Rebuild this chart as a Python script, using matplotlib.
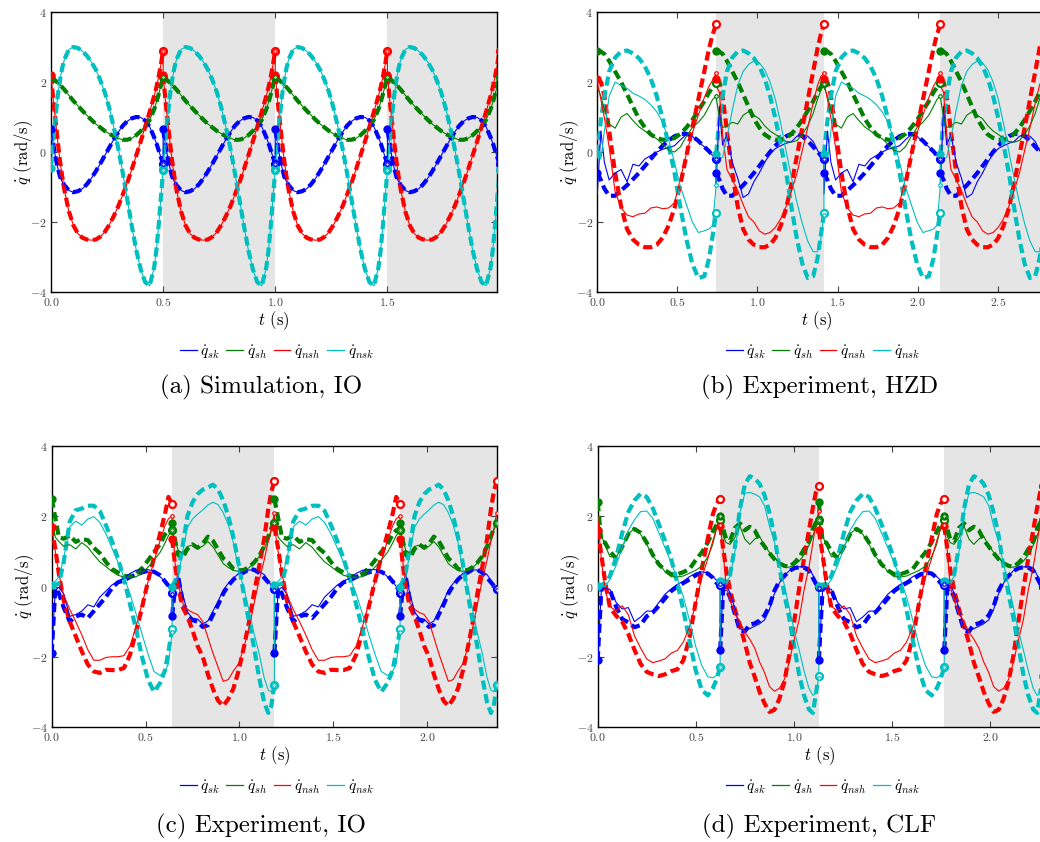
import numpy as np
import matplotlib
matplotlib.use('Agg')
import matplotlib.pyplot as plt
from matplotlib.lines import Line2D

plt.rcParams['font.family'] = ['cmr10', 'DejaVu Serif']
plt.rcParams['mathtext.fontset'] = 'cm'
plt.rcParams['axes.formatter.use_mathtext'] = True

# ---------------- data ----------------
joint_labels = [r'$\dot{q}_{sk}$', r'$\dot{q}_{sh}$', r'$\dot{q}_{nsh}$', r'$\dot{q}_{nsk}$']
joint_colors = ['#0000ff', '#008000', '#ff0000', '#00bfbf']
captions = ['(a) Simulation, IO', '(b) Experiment, HZD', '(c) Experiment, IO', '(d) Experiment, CLF']
y_ticks = [-4, -2, 0, 2, 4]
y_ticklabels = [r'$-4$', r'$-2$', r'$0$', r'$2$', r'$4$']

# step boundaries (s)
a_steps = [0.0, 0.5, 1.0, 1.5, 2.0]
b_steps = [0.0, 0.742, 1.415, 2.142, 2.80]
c_steps = [0.0, 0.641, 1.186, 1.855, 2.37]
d_steps = [0.0, 0.624, 1.127, 1.766, 2.27]

a_xticks = [0.0, 0.5, 1.0, 1.5]
b_xticks = [0.0, 0.5, 1.0, 1.5, 2.0, 2.5]
c_xticks = [0.0, 0.5, 1.0, 1.5, 2.0]
d_xticks = [0.0, 0.5, 1.0, 1.5, 2.0]

# phase within a step (0 = start, 1 = end)
a_phase = [0, 0.02, 0.04, 0.06, 0.08, 0.10, 0.12, 0.16, 0.20, 0.24, 0.28, 0.32, 0.36,
           0.40, 0.44, 0.48, 0.52, 0.56, 0.60, 0.64, 0.68, 0.72, 0.76, 0.80, 0.84, 0.88,
           0.92, 0.94, 0.96, 0.98, 1.0]
phase = [0, 0.03, 0.06, 0.1, 0.15, 0.2, 0.25, 0.3, 0.35, 0.4, 0.45, 0.5, 0.55, 0.6,
         0.65, 0.7, 0.75, 0.8, 0.85, 0.9, 0.94, 0.97, 1.0]

# (a) simulation: actual == desired, one step repeated
a_sk = [0.65, 0.25, -0.15, -0.45, -0.7, -0.85, -0.95, -1.1, -1.15, -1.12, -1.05, -0.92, -0.75,
        -0.55, -0.33, -0.1, 0.13, 0.36, 0.57, 0.75, 0.88, 0.96, 1.0, 0.99, 0.9, 0.72, 0.42,
        0.25, 0.05, -0.15, -0.35]
a_sh = [2.15, 2.1, 2.04, 1.98, 1.92, 1.85, 1.78, 1.62, 1.46, 1.32, 1.18, 1.05, 0.92, 0.8,
        0.7, 0.6, 0.52, 0.45, 0.39, 0.35, 0.35, 0.39, 0.48, 0.6, 0.72, 0.92, 1.22, 1.42,
        1.65, 1.9, 2.15]
a_nsh = [2.2, 1.5, 0.9, 0.3, -0.25, -0.7, -1.1, -1.7, -2.1, -2.33, -2.45, -2.5, -2.52, -2.5,
         -2.42, -2.28, -2.08, -1.83, -1.55, -1.22, -0.88, -0.5, -0.1, 0.3, 0.72, 1.15, 1.6,
         1.85, 2.15, 2.5, 2.9]
a_nsk = [-0.45, 0.3, 1.0, 1.6, 2.05, 2.4, 2.65, 2.93, 3.0, 2.97, 2.88, 2.75, 2.57, 2.35,
         2.05, 1.7, 1.25, 0.7, 0.1, -0.6, -1.35, -2.1, -2.8, -3.35, -3.72, -3.82, -3.3,
         -2.8, -2.1, -1.3, -0.5]

# (b) HZD experiment
b_des_sk = [-0.6, -0.8, -1.05, -1.25, -1.25, -1.1, -0.95, -0.78, -0.6, -0.4, -0.2, 0.0, 0.18,
            0.33, 0.45, 0.52, 0.52, 0.45, 0.32, 0.15, 0.02, -0.1, -0.2]
b_des_sh = [2.88, 2.87, 2.8, 2.6, 2.3, 2.0, 1.65, 1.3, 0.95, 0.7, 0.5, 0.4, 0.35, 0.35, 0.4,
            0.52, 0.7, 0.92, 1.18, 1.45, 1.7, 1.85, 1.98]
b_des_nsh = [2.08, 2.0, 1.6, 0.6, -0.6, -1.55, -2.2, -2.5, -2.65, -2.72, -2.72, -2.65, -2.45,
             -2.1, -1.6, -0.9, -0.1, 0.7, 1.5, 2.3, 2.95, 3.35, 3.65]
b_des_nsk = [-0.05, 0.9, 1.6, 2.3, 2.7, 2.87, 2.9, 2.82, 2.68, 2.45, 2.1, 1.6, 0.95, 0.2,
             -0.6, -1.6, -2.5, -3.2, -3.6, -3.55, -3.05, -2.4, -1.75]
b_actA_sk = [-1.2, 0.6, -0.3, -0.8, -0.6, -0.5, -0.85, -0.35, -0.4, -0.2, -0.1, 0.0, 0.08,
             0.12, 0.18, 0.35, 0.5, 0.45, 0.28, 0.15, 0.0, -0.1, -0.2]
b_actA_sh = [1.85, 1.6, 1.2, 0.8, 0.68, 1.0, 1.1, 0.9, 0.72, 0.6, 0.48, 0.38, 0.22, 0.05,
             0.0, 0.15, 0.45, 0.7, 0.85, 1.05, 1.3, 1.5, 1.6]
b_actA_nsh = [2.0, 1.5, 0.97, 0.13, -1.14, -1.59, -1.8, -1.85, -1.77, -1.75, -1.6, -1.57,
              -1.62, -1.6, -1.45, -0.75, -0.05, 0.55, 1.05, 1.55, 1.88, 2.05, 2.25]
b_actA_nsk = [-0.1, -0.2, 0.6, 1.6, 2.0, 1.9, 1.82, 1.68, 1.6, 1.5, 1.35, 1.15, 0.85, 0.35,
              -0.3, -1.0, -1.5, -2.0, -2.3, -2.25, -2.2, -2.1, -0.95]
b_actB_sk = [-0.9, 1.3, 0.2, 0.5, -0.3, -0.75, -1.3, -1.2, -0.85, -0.6, -0.3, -0.05, 0.1,
             0.18, 0.25, 0.3, 0.45, 0.5, 0.45, 0.3, 0.05, -0.1, -0.2]
b_actB_sh = [1.55, 1.0, 0.7, 0.75, 0.85, 0.8, 1.05, 1.15, 1.05, 0.95, 0.75, 0.6, 0.5, 0.4,
             0.3, 0.28, 0.33, 0.5, 0.75, 1.1, 1.5, 1.75, 1.95]
b_actB_nsh = [1.9, 1.7, 0.5, -0.5, -0.8, -1.1, -1.5, -1.85, -2.0, -2.25, -2.35, -2.3, -2.15,
              -1.9, -1.55, -1.1, -0.6, 0.05, 0.7, 1.4, 1.9, 2.15, 2.25]
b_actB_nsk = [-0.1, -0.2, -0.15, 0.4, 1.2, 1.9, 2.3, 2.5, 2.6, 2.55, 2.35, 2.0, 1.5, 0.8,
              0.0, -0.75, -1.45, -2.05, -2.55, -2.85, -2.85, -2.5, -1.8]

# (c) IO experiment
c_desA_sk = [-1.9, -0.05, -0.2, -0.6, -1.0, -0.85, -0.8, -0.9, -0.7, -0.5, -0.3, -0.05, 0.12,
             0.17, 0.27, 0.33, 0.4, 0.45, 0.42, 0.32, 0.15, 0.02, -0.18]
c_desA_sh = [2.5, 1.95, 1.4, 1.36, 1.45, 1.27, 1.35, 1.32, 1.1, 0.95, 0.7, 0.5, 0.4, 0.3,
             0.29, 0.36, 0.52, 0.74, 0.98, 1.2, 1.48, 1.6, 1.6]
c_desA_nsh = [1.7, 1.07, 0.35, -0.4, -1.0, -1.42, -1.85, -2.22, -2.42, -2.46, -2.37, -2.38,
              -2.38, -2.32, -1.95, -1.3, -0.6, 0.15, 0.82, 1.5, 2.05, 2.55, 2.35]
c_desA_nsk = [0.05, 0.05, 0.08, 0.7, 1.85, 2.17, 2.22, 2.3, 2.3, 2.15, 1.75, 1.3, 0.8, 0.22,
              -0.5, -1.2, -2.0, -2.65, -3.0, -2.75, -2.4, -1.85, -1.22]
c_desB_sk = [-0.85, 0.0, 0.27, -0.37, -0.86, -0.96, -1.0, -1.15, -1.1, -0.8, -0.52, -0.2,
             0.03, 0.2, 0.33, 0.4, 0.48, 0.48, 0.39, 0.25, 0.12, 0.02, -0.08]
c_desB_sh = [1.8, 1.3, 0.9, 0.8, 1.07, 1.2, 1.1, 1.22, 1.42, 1.3, 1.05, 0.8, 0.68, 0.5, 0.46,
             0.47, 0.55, 0.68, 0.86, 1.14, 1.42, 1.66, 1.8]
c_desB_nsh = [1.36, 0.6, 0.0, -0.57, -0.85, -1.25, -1.7, -2.0, -2.5, -2.92, -3.25, -3.4,
              -3.2, -2.9, -2.4, -1.75, -1.05, -0.2, 0.55, 1.35, 2.2, 2.7, 3.0]
c_desB_nsk = [0.0, 0.15, 0.42, 1.1, 2.0, 2.4, 2.63, 2.76, 2.82, 2.9, 2.76, 2.45, 2.0, 1.4,
              0.65, -0.2, -0.97, -1.72, -2.58, -3.3, -3.6, -3.4, -2.8]
c_actA_sk = [-1.9, -0.1, -0.02, -0.22, -0.85, -0.8, -0.7, -0.52, -0.58, -0.3, -0.13, 0.04,
             0.15, 0.24, 0.37, 0.46, 0.49, 0.48, 0.44, 0.28, 0.15, 0.0, -0.2]
c_actA_sh = [2.0, 1.4, 1.28, 1.14, 1.19, 1.07, 1.25, 1.12, 0.9, 0.7, 0.57, 0.43, 0.32, 0.27,
             0.26, 0.28, 0.37, 0.55, 0.75, 0.97, 1.23, 1.45, 1.6]
c_actA_nsh = [1.7, 1.0, 0.35, -0.25, -0.65, -1.0, -1.38, -1.8, -2.1, -2.1, -2.02, -2.0, -2.0,
              -1.97, -1.7, -1.15, -0.5, 0.13, 0.72, 1.3, 1.72, 1.93, 2.0]
c_actA_nsk = [0.05, 0.15, 0.27, 0.8, 1.7, 1.86, 1.75, 1.92, 1.99, 1.82, 1.5, 1.1, 0.7, 0.27,
              -0.2, -0.77, -1.35, -1.92, -2.42, -2.53, -2.42, -2.2, -1.3]
c_actB_sk = [-0.85, 0.1, 0.33, -0.18, -0.73, -0.9, -0.93, -1.07, -0.98, -0.7, -0.42, -0.1,
             0.09, 0.24, 0.37, 0.42, 0.47, 0.47, 0.42, 0.34, 0.17, 0.02, -0.1]
c_actB_sh = [1.6, 1.3, 1.03, 0.95, 1.14, 1.18, 1.08, 1.15, 1.28, 1.13, 0.89, 0.65, 0.54, 0.46,
             0.43, 0.45, 0.53, 0.67, 0.85, 1.08, 1.3, 1.6, 1.8]
c_actB_nsh = [2.0, 0.65, 0.1, -0.45, -0.65, -0.74, -0.8, -1.0, -1.45, -1.9, -2.3, -2.7, -2.65,
              -2.4, -2.2, -1.75, -1.2, -0.5, 0.17, 0.75, 1.3, 1.65, 2.1]
c_actB_nsk = [0.0, 0.12, 0.28, 0.95, 1.68, 1.92, 2.06, 2.18, 2.32, 2.4, 2.33, 2.1, 1.75, 1.25,
              0.48, -0.03, -0.65, -1.33, -1.9, -2.6, -2.95, -3.0, -2.8]

# (d) CLF experiment
d_desA_sk = [-2.1, -0.05, -0.05, -0.1, -0.57, -0.93, -1.02, -1.16, -1.1, -0.85, -0.74, -0.55,
             -0.34, -0.13, 0.0, 0.1, 0.2, 0.32, 0.4, 0.37, 0.25, 0.1, 0.05]
d_desA_sh = [2.4, 1.28, 1.25, 1.0, 0.8, 1.13, 1.5, 1.64, 1.53, 1.25, 0.9, 0.63, 0.46, 0.35,
             0.35, 0.41, 0.5, 0.75, 0.97, 1.26, 1.56, 1.75, 1.9]
d_desA_nsh = [1.6, 0.9, 0.15, -0.6, -0.83, -1.0, -1.35, -1.8, -2.2, -2.43, -2.5, -2.55, -2.5,
              -2.41, -2.36, -2.1, -1.45, -0.45, 0.5, 1.37, 2.05, 2.35, 2.5]
d_desA_nsk = [0.02, 0.05, 0.08, 0.3, 0.82, 1.52, 2.12, 2.45, 2.64, 2.55, 2.23, 1.77, 1.3,
              0.78, 0.1, -0.68, -1.55, -2.38, -2.95, -3.1, -2.9, -2.65, -2.3]
d_desB_sk = [-1.82, -0.1, -0.05, -0.3, -0.78, -1.25, -1.28, -1.08, -1.05, -0.97, -0.82, -0.56,
             -0.12, 0.15, 0.3, 0.44, 0.52, 0.55, 0.54, 0.45, 0.24, 0.08, 0.0]
d_desB_sh = [2.0, 1.65, 1.36, 1.3, 1.67, 1.8, 1.6, 1.7, 1.6, 1.33, 1.14, 0.95, 0.78, 0.66,
             0.59, 0.56, 0.67, 0.82, 1.06, 1.28, 1.65, 1.82, 1.9]
d_desB_nsh = [1.73, 1.1, 0.5, -0.1, -0.66, -1.12, -1.6, -2.17, -2.57, -3.0, -3.33, -3.57,
              -3.51, -3.2, -2.72, -1.96, -1.0, -0.07, 0.8, 1.6, 2.25, 2.68, 2.86]
d_desB_nsk = [0.15, 0.17, 0.12, 0.33, 1.14, 2.2, 2.9, 3.14, 3.08, 2.92, 2.6, 2.1, 1.45, 0.55,
              -0.2, -0.9, -1.7, -2.5, -3.1, -3.5, -3.6, -3.05, -2.55]
d_actA_sk = [-2.1, -0.09, -0.06, -0.08, -0.45, -0.64, -0.6, -1.0, -0.87, -0.7, -0.7, -0.45,
             -0.22, -0.07, 0.06, 0.15, 0.28, 0.38, 0.42, 0.38, 0.28, 0.18, 0.08]
d_actA_sh = [2.0, 1.45, 1.17, 0.85, 0.84, 1.12, 1.5, 1.65, 1.49, 1.2, 0.86, 0.66, 0.42, 0.28,
             0.27, 0.3, 0.38, 0.46, 0.58, 0.85, 1.2, 1.66, 2.0]
d_actA_nsh = [2.0, 0.76, -0.1, -0.57, -0.69, -0.55, -0.8, -1.4, -1.75, -2.06, -2.17, -2.12,
              -2.06, -1.9, -1.82, -1.58, -1.15, -0.5, 0.25, 0.8, 1.3, 1.63, 1.75]
d_actA_nsk = [0.0, 0.0, 0.0, 0.2, 0.6, 1.1, 1.6, 1.9, 2.13, 2.15, 1.94, 1.52, 1.1, 0.68, 0.22,
              -0.3, -0.97, -1.7, -2.25, -2.57, -2.6, -2.53, -2.3]
d_actB_sk = [-1.82, 0.01, 0.04, -0.18, -0.63, -1.2, -1.25, -1.2, -1.13, -1.06, -0.95, -0.65,
             -0.2, 0.1, 0.3, 0.45, 0.52, 0.56, 0.57, 0.54, 0.32, 0.15, -0.05]
d_actB_sh = [2.0, 1.45, 1.25, 1.2, 1.4, 1.72, 1.35, 1.2, 1.35, 1.42, 1.17, 0.97, 0.82, 0.67,
             0.55, 0.55, 0.6, 0.72, 0.9, 1.17, 1.45, 1.68, 1.9]
d_actB_nsh = [1.75, 1.05, 0.0, -0.4, -0.77, -1.0, -1.3, -1.5, -1.75, -2.15, -2.45, -2.85,
              -2.98, -2.9, -2.65, -2.15, -1.52, -0.95, -0.1, 0.55, 1.25, 1.8, 2.15]
d_actB_nsk = [0.15, 0.12, 0.12, 0.28, 1.0, 2.1, 2.65, 2.68, 2.63, 2.55, 2.3, 1.72, 1.27, 0.64,
              0.05, -0.6, -1.25, -1.8, -2.4, -2.9, -3.1, -3.05, -2.6]

# ---------------- drawing ----------------
W, H = 1040, 842
fig = plt.figure(figsize=(W / 100, H / 100), dpi=100)


def px_axes(left, top, right, bottom):
    return fig.add_axes([left / W, 1 - bottom / H, (right - left) / W, (bottom - top) / H])


def draw_panel(ax, steps, ph, des_odd, des_even, act_odd, act_even, xlim, xticks,
               xlabel_x, width_px):
    ph = np.asarray(ph)
    for k in range(len(steps) - 1):
        if k % 2 == 1:
            ax.axvspan(steps[k], steps[k + 1], color='#e5e5e5', lw=0, zorder=0)
    for j in range(4):
        col = joint_colors[j]
        ts, vs = [], []
        for k in range(len(steps) - 1):
            t0, t1 = steps[k], steps[k + 1]
            tt = t0 + (t1 - t0) * ph
            d = np.asarray(des_odd[j] if k % 2 == 0 else des_even[j])
            a = np.asarray(act_odd[j] if k % 2 == 0 else act_even[j])
            ts.append(tt)
            vs.append(a)
            ax.plot(tt, d, color=col, lw=3.0, dashes=(2.2, 1.1), zorder=3,
                    solid_capstyle='butt', dash_capstyle='butt')
            ax.plot([tt[0]], [d[0]], 'o', ms=5, color=col, zorder=5)
            ax.plot([tt[-1]], [d[-1]], 'o', ms=5, mfc='white', mec=col, mew=1.6, zorder=5)
            ax.plot([tt[-1]], [a[-1]], 'o', ms=2.5, mfc='white', mec=col, mew=0.9, zorder=6)
        ax.plot(np.concatenate(ts), np.concatenate(vs), color=col, lw=0.8, zorder=4)
    ax.set_xlim(*xlim)
    ax.set_ylim(-4, 4)
    ax.set_xticks(xticks)
    ax.set_xticklabels([r'$%.1f$' % x for x in xticks])
    ax.set_yticks(y_ticks)
    ax.set_yticklabels(y_ticklabels)
    ax.tick_params(direction='in', length=4, width=0.8, top=True, right=True,
                   labelsize=8.5, pad=3, colors='#444444')
    for s in ax.spines.values():
        s.set_linewidth(1.0)
        s.set_color('black')
    ax.set_xlabel(r'$t$ (s)', fontsize=12, labelpad=1)
    ax.set_ylabel(r'$\dot{q}$ (rad/s)', fontsize=12)
    ax.yaxis.set_label_coords(-16.0 / width_px, 0.5)
    ax.xaxis.label.set_x(xlabel_x)


ax_a = px_axes(51, 12, 497.3, 292)
draw_panel(ax_a, a_steps, a_phase,
           [a_sk, a_sh, a_nsh, a_nsk], [a_sk, a_sh, a_nsh, a_nsk],
           [a_sk, a_sh, a_nsh, a_nsk], [a_sk, a_sh, a_nsh, a_nsk],
           (0, 1.99), a_xticks, 0.5, 446.3)

ax_b = px_axes(597.3, 12, 1053.8, 292)
b_des = [b_des_sk, b_des_sh, b_des_nsh, b_des_nsk]
draw_panel(ax_b, b_steps, phase, b_des, b_des,
           [b_actA_sk, b_actA_sh, b_actA_nsh, b_actA_nsk],
           [b_actB_sk, b_actB_sh, b_actB_nsh, b_actB_nsk],
           (0, 2.85), b_xticks, 0.481, 456.5)

ax_c = px_axes(51.7, 446, 497.3, 727)
draw_panel(ax_c, c_steps, phase,
           [c_desA_sk, c_desA_sh, c_desA_nsh, c_desA_nsk],
           [c_desB_sk, c_desB_sh, c_desB_nsh, c_desB_nsk],
           [c_actA_sk, c_actA_sh, c_actA_nsh, c_actA_nsk],
           [c_actB_sk, c_actB_sh, c_actB_nsh, c_actB_nsk],
           (0, 2.373), c_xticks, 0.5, 445.6)

ax_d = px_axes(597.7, 446, 1049.0, 727)
draw_panel(ax_d, d_steps, phase,
           [d_desA_sk, d_desA_sh, d_desA_nsh, d_desA_nsk],
           [d_desB_sk, d_desB_sh, d_desB_nsh, d_desB_nsk],
           [d_actA_sk, d_actA_sh, d_actA_nsh, d_actA_nsk],
           [d_actB_sk, d_actB_sh, d_actB_nsh, d_actB_nsk],
           (0, 2.3), d_xticks, 0.4926, 451.3)

handles = [Line2D([], [], color=c, lw=0.9) for c in joint_colors]
legend_pos = [(277, 352), (823, 352), (277, 787), (823, 787)]
caption_pos = [(261, 387), (820, 387), (261, 826), (819, 826)]
for (lx, ly) in legend_pos:
    fig.legend(handles, joint_labels, loc='center', bbox_to_anchor=(lx / W, 1 - ly / H),
               ncol=4, frameon=False, fontsize=11, handlelength=1.1, handletextpad=0.25,
               columnspacing=0.4, borderaxespad=0, borderpad=0)
for (cx, cy), cap in zip(caption_pos, captions):
    fig.text(cx / W, 1 - cy / H, cap, ha='center', va='center', fontsize=18)

fig.savefig('out.png', dpi=100)
